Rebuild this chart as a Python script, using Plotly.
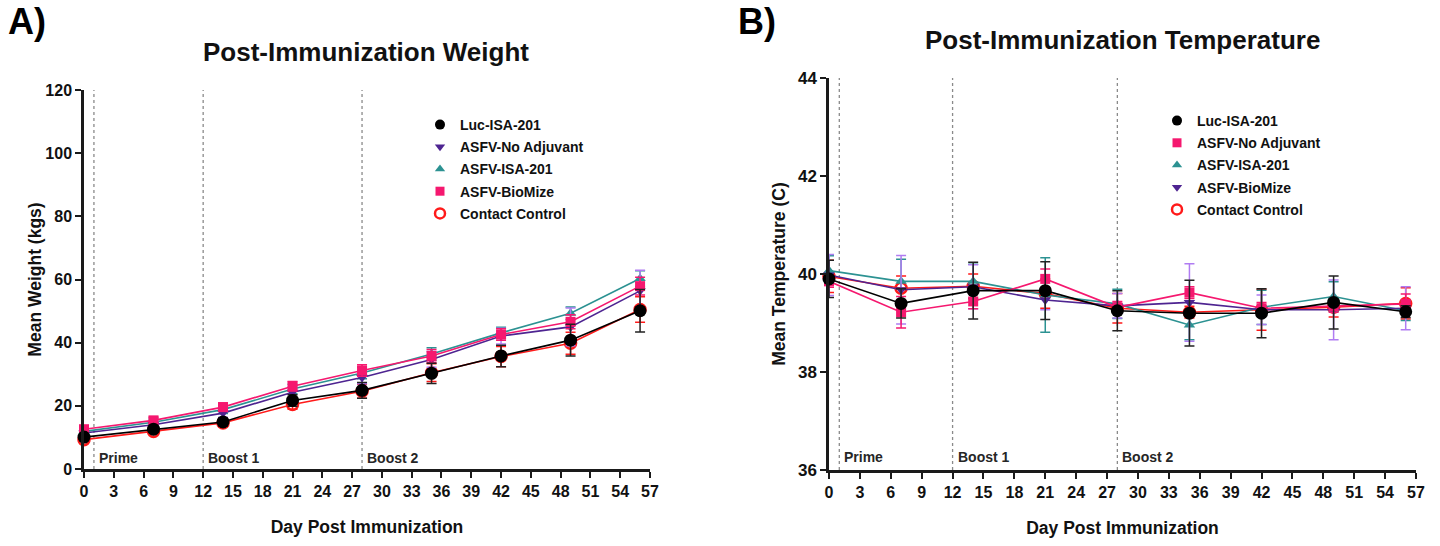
import plotly.graph_objects as go

# ---------------- data ----------------
days = [0, 7, 14, 21, 28, 35, 42, 49, 56]
x_ticks = list(range(0, 58, 3))
vaccination_days = [1, 12, 28]
vaccination_labels = ["Prime", "Boost 1", "Boost 2"]

# Panel A: mean weight (kg) and error
w_luc = [10.1, 12.6, 14.9, 21.7, 24.9, 30.3, 35.8, 40.8, 50.1]
w_luc_err = [1.0, 1.0, 1.2, 1.8, 2.5, 3.2, 3.4, 5.0, 6.7]
w_noadj = [11.4, 14.0, 17.7, 24.3, 29.0, 34.7, 42.1, 45.0, 56.4]
w_noadj_err = [0.8, 1.0, 1.3, 1.8, 2.0, 2.5, 2.5, 6.0, 6.5]
w_isa = [11.9, 14.8, 18.8, 25.3, 30.4, 36.4, 43.1, 49.3, 60.3]
w_isa_err = [0.8, 1.0, 1.2, 1.5, 1.8, 2.0, 1.8, 2.0, 2.5]
w_biomize = [12.6, 15.4, 19.6, 26.2, 31.2, 35.8, 42.6, 46.6, 57.9]
w_biomize_err = [0.9, 1.0, 1.3, 1.5, 1.8, 2.0, 1.8, 2.2, 2.8]
w_contact = [9.3, 11.9, 14.6, 20.4, 24.6, 30.5, 35.6, 39.8, 50.5]
w_contact_err = [1.0, 1.0, 1.2, 1.5, 2.2, 2.8, 3.2, 3.5, 4.0]

# Panel B: mean temperature (C) and error
t_luc = [39.90, 39.40, 39.66, 39.66, 39.25, 39.20, 39.20, 39.42, 39.23]
t_luc_err = [0.38, 0.30, 0.58, 0.59, 0.41, 0.67, 0.50, 0.54, 0.12]
t_noadj = [39.85, 39.22, 39.44, 39.90, 39.32, 39.62, 39.30, 39.34, 39.39]
t_noadj_err = [0.12, 0.32, 0.15, 0.20, 0.12, 0.12, 0.12, 0.12, 0.20]
t_isa = [40.07, 39.85, 39.85, 39.57, 39.39, 38.96, 39.32, 39.54, 39.25]
t_isa_err = [0.30, 0.45, 0.35, 0.76, 0.30, 0.30, 0.35, 0.30, 0.20]
t_biomize = [39.98, 39.68, 39.74, 39.47, 39.35, 39.42, 39.27, 39.27, 39.30]
t_biomize_err = [0.42, 0.70, 0.45, 0.20, 0.25, 0.79, 0.30, 0.61, 0.44]
t_contact = [39.95, 39.71, 39.75, 39.60, 39.30, 39.22, 39.27, 39.32, 39.40]
t_contact_err = [0.33, 0.25, 0.25, 0.30, 0.30, 0.12, 0.42, 0.20, 0.32]

# ---------------- styling ----------------
FONT = "Liberation Sans, Arial, sans-serif"
BLACK = "#000000"
PURPLE = "#4E2491"
PURPLE_ERR = "#B07CF2"
TEAL = "#2C9292"
PINK = "#F5186F"
RED = "#FF1A1A"

series_a = [
    # name, values, errors, line colour, error colour, symbol, size
    ("Contact Control", w_contact, w_contact_err, RED, RED, "circle-open", 11),
    ("ASFV-ISA-201", w_isa, w_isa_err, TEAL, TEAL, "triangle-up", 10),
    ("ASFV-No Adjuvant", w_noadj, w_noadj_err, PURPLE, PURPLE_ERR, "triangle-down", 10),
    ("ASFV-BioMize", w_biomize, w_biomize_err, PINK, PINK, "square", 10),
    ("Luc-ISA-201", w_luc, w_luc_err, BLACK, "#222222", "circle", 13),
]
legend_a_order = ["Luc-ISA-201", "ASFV-No Adjuvant", "ASFV-ISA-201", "ASFV-BioMize", "Contact Control"]

series_b = [
    ("Contact Control", t_contact, t_contact_err, RED, RED, "circle-open", 11),
    ("ASFV-ISA-201", t_isa, t_isa_err, TEAL, TEAL, "triangle-up", 10),
    ("ASFV-BioMize", t_biomize, t_biomize_err, PURPLE, PURPLE_ERR, "triangle-down", 10),
    ("ASFV-No Adjuvant", t_noadj, t_noadj_err, PINK, PINK, "square", 10),
    ("Luc-ISA-201", t_luc, t_luc_err, BLACK, "#222222", "circle", 13),
]
legend_b_order = ["Luc-ISA-201", "ASFV-No Adjuvant", "ASFV-ISA-201", "ASFV-BioMize", "Contact Control"]

fig = go.Figure()


def add_panel(series, order, xa, ya, legend_id):
    for name, vals, errs, col, ecol, sym, size in series:
        marker = dict(symbol=sym, size=size, color=col)
        if sym.endswith("open"):
            marker["line"] = dict(width=2.5, color=col)
        fig.add_trace(go.Scatter(
            x=days, y=vals, mode="lines+markers", name=name,
            line=dict(color=col, width=1.6), marker=marker,
            error_y=dict(type="data", array=errs, visible=True,
                         color=ecol, thickness=1.5, width=5),
            xaxis=xa, yaxis=ya, showlegend=False, cliponaxis=False,
        ))
    # legend entries show the marker only
    lookup = {s[0]: s for s in series}
    for i, name in enumerate(order):
        _, _, _, col, _, sym, size = lookup[name]
        marker = dict(symbol=sym, size=min(size, 11) - 1, color=col)
        if sym.endswith("open"):
            marker["line"] = dict(width=2.5, color=col)
        fig.add_trace(go.Scatter(
            x=[None], y=[None], mode="markers", name=name, marker=marker,
            xaxis=xa, yaxis=ya, legend=legend_id, legendgroup=f"{legend_id}{i}",
            showlegend=True,
        ))


add_panel(series_a, legend_a_order, "x", "y", "legend")
add_panel(series_b, legend_b_order, "x2", "y2", "legend2")

tick_font = dict(family=FONT, size=16, color="#111111", weight="bold")
tick_font_b = dict(family=FONT, size=17, color="#111111", weight="bold")
title_font = dict(family=FONT, size=17.5, color="#111111", weight="bold")

axis_common = dict(
    showline=True, linecolor="#1a1a1a", linewidth=2.5, mirror=False,
    ticks="outside", ticklen=6, tickwidth=2, tickcolor="#1a1a1a",
    showgrid=False, zeroline=False, automargin=False,
)

W, H = 1440, 546


def px_x(p):
    return p / W


def px_y(p):
    return 1 - p / H


fig.update_layout(
    width=W, height=H,
    margin=dict(l=0, r=0, t=0, b=0, autoexpand=False),
    paper_bgcolor="white", plot_bgcolor="white",
    font=dict(family=FONT, color="#111111"),
    xaxis=dict(domain=[px_x(84), px_x(650)], range=[0, 57], tickvals=x_ticks, tickfont=tick_font,
               anchor="y", title=dict(text="Day Post Immunization", font=title_font, standoff=22),
               **axis_common),
    yaxis=dict(domain=[px_y(469), px_y(90)], range=[0, 120], tickvals=list(range(0, 121, 20)),
               tickfont=tick_font,
               anchor="x", title=dict(text="Mean Weight (kgs)", font=title_font, standoff=0),
               **axis_common),
    xaxis2=dict(domain=[px_x(829), px_x(1416)], range=[0, 57], tickvals=x_ticks, tickfont=tick_font,
                anchor="y2", title=dict(text="Day Post Immunization", font=title_font, standoff=22),
                **axis_common),
    yaxis2=dict(domain=[px_y(470), px_y(78)], range=[36, 44], tickvals=[36, 38, 40, 42, 44],
                tickfont=tick_font_b,
                anchor="x2", title=dict(text="Mean Temperature (C)", font=title_font, standoff=8),
                **axis_common),
    legend=dict(x=px_x(420), y=px_y(109), xanchor="left", yanchor="top",
                font=dict(family=FONT, size=14, color="#111111", weight="bold"),
                bgcolor="rgba(0,0,0,0)", tracegroupgap=1, traceorder="grouped"),
    legend2=dict(x=px_x(1157), y=px_y(105), xanchor="left", yanchor="top",
                 font=dict(family=FONT, size=14, color="#111111", weight="bold"),
                 bgcolor="rgba(0,0,0,0)", tracegroupgap=1, traceorder="grouped"),
)

# vaccination markers: dotted verticals with labels
shapes = []
annotations = []
for xa, ya, y0, y1, ylab in [("x", "y", 0, 120, 3.4), ("x2", "y2", 36, 44, 36.27)]:
    for d, lab in zip(vaccination_days, vaccination_labels):
        shapes.append(dict(type="line", xref=xa, yref=ya, x0=d, x1=d, y0=y0, y1=y1,
                           line=dict(color="#8a8a8a", width=1.3, dash="dot"), layer="below"))
        annotations.append(dict(x=d, y=ylab, xref=xa, yref=ya, text=lab, showarrow=False,
                                xanchor="left", yanchor="middle", xshift=3,
                                font=dict(family=FONT, size=14, color="#262626", weight="bold")))

# panel titles and letters
annotations += [
    dict(x=px_x(366), y=px_y(52), xref="paper", yref="paper", text="Post-Immunization Weight",
         showarrow=False, xanchor="center", yanchor="middle",
         font=dict(family=FONT, size=26, color="#111111", weight="bold")),
    dict(x=px_x(1122), y=px_y(40), xref="paper", yref="paper", text="Post-Immunization Temperature",
         showarrow=False, xanchor="center", yanchor="middle",
         font=dict(family=FONT, size=26, color="#111111", weight="bold")),
    dict(x=px_x(6), y=px_y(22), xref="paper", yref="paper", text="A)",
         showarrow=False, xanchor="left", yanchor="middle",
         font=dict(family=FONT, size=36, color="#000000", weight="bold")),
    dict(x=px_x(736), y=px_y(22), xref="paper", yref="paper", text="B)",
         showarrow=False, xanchor="left", yanchor="middle",
         font=dict(family=FONT, size=36, color="#000000", weight="bold")),
]

fig.update_layout(shapes=shapes, annotations=annotations)

fig.write_html("out.html")
